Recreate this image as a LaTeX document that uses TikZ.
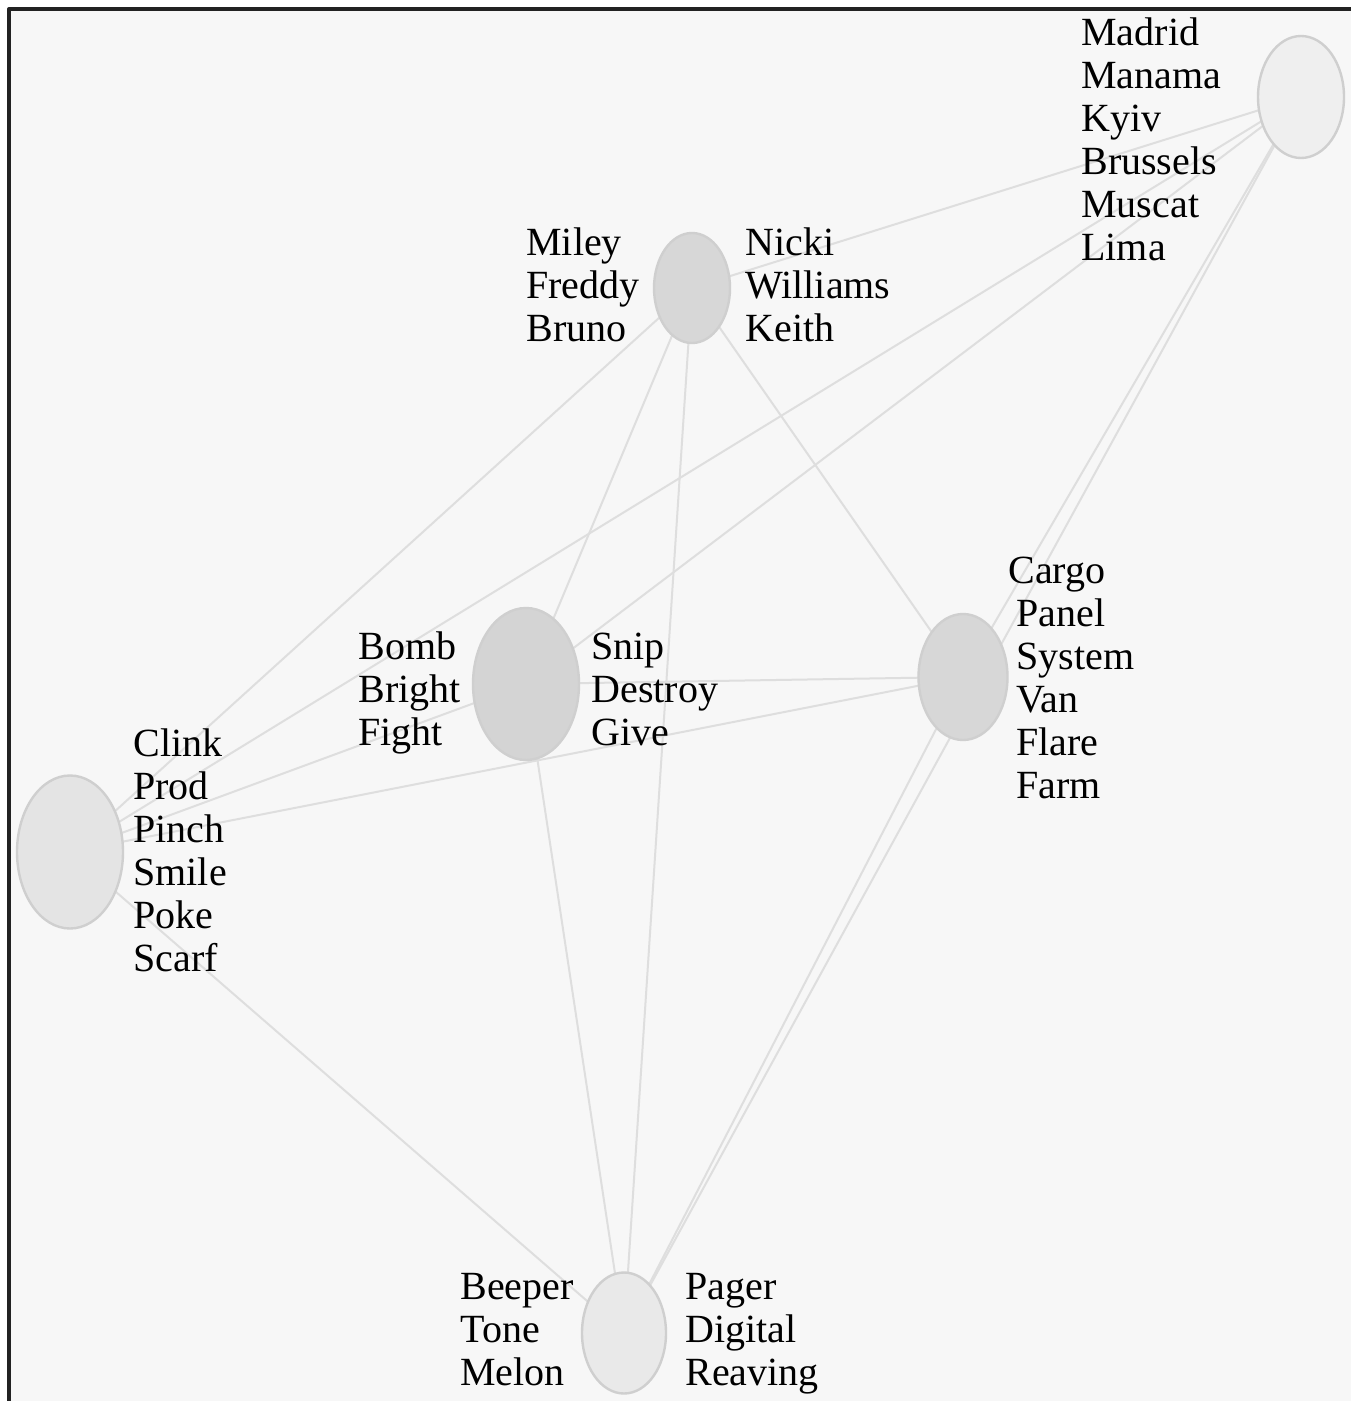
\documentclass[tikz,border=0pt]{standalone}
\usepackage{fontspec}
\setmainfont{Liberation Serif}
\usetikzlibrary{shapes.geometric,backgrounds}
\definecolor{bgc}{HTML}{F7F7F7}
\definecolor{framec}{HTML}{222222}
\definecolor{edgec}{HTML}{DEDEDE}
\definecolor{strokec}{HTML}{CFCFCF}
\newcommand\lbl[1]{\begin{tabular}[t]{@{}l@{}}#1\end{tabular}}
\tikzset{
  vtx/.style={ellipse, draw=strokec, line width=1.2pt, inner sep=0pt},
  edge/.style={draw=edgec, line width=1pt},
  lab/.style={anchor=base west, inner sep=0pt, font=\fontsize{20}{21.5}\selectfont, text=black}
}
\begin{document}
\begin{tikzpicture}[x=0.5pt,y=-0.5pt]
\useasboundingbox (0,0) rectangle (1351,1401);
% nodes (sizes in pt = px/2)
\node[vtx, fill={rgb,255:red,239;green,239;blue,239}, minimum width=43pt, minimum height=61pt] (mad) at (1301,97) {};
\node[vtx, fill={rgb,255:red,215;green,215;blue,215}, minimum width=38pt, minimum height=55pt] (mil) at (692,288) {};
\node[vtx, fill={rgb,255:red,212;green,212;blue,212}, minimum width=53pt, minimum height=76pt] (bom) at (526,684) {};
\node[vtx, fill={rgb,255:red,228;green,228;blue,228}, minimum width=53pt, minimum height=76.5pt] (clk) at (70,852) {};
\node[vtx, fill={rgb,255:red,215;green,215;blue,215}, minimum width=44.5pt, minimum height=63pt] (car) at (963,677) {};
\node[vtx, fill={rgb,255:red,233;green,233;blue,233}, minimum width=42pt, minimum height=60.5pt] (bee) at (624,1333) {};
% background and edges
\begin{pgfonlayer}{background}
\fill[bgc] (9,9) rectangle (1351,1401);
\draw[edge] (mad.center) -- (mil.center);
\draw[edge] (mad.center) -- (clk.center);
\draw[edge] (mad.center) -- (bom.center);
\draw[edge] (mad.center) -- (car.center);
\draw[edge] (mad.center) -- (bee.center);
\draw[edge] (mil.center) -- (bom.center);
\draw[edge] (mil.center) -- (bee.center);
\draw[edge] (mil.center) -- (car.center);
\draw[edge] (mil.center) -- (clk.center);
\draw[edge] (bom.center) -- (car.center);
\draw[edge] (bom.center) -- (bee.center);
\draw[edge] (bom.center) -- (clk.center);
\draw[edge] (clk.center) -- (car.center);
\draw[edge] (clk.center) -- (bee.center);
\draw[edge] (car.center) -- (bee.center);
\end{pgfonlayer}
% frame
\draw[framec, line width=2pt, line join=round] (9,1401) -- (9,9) -- (1351,9);
% labels
\node[lab] (lmad) at (1081,46) {\lbl{Madrid\\Manama\\Kyiv\\Brussels\\Muscat\\Lima}};
\node[lab] (lmil) at (526,256) {\lbl{Miley\\Freddy\\Bruno}};
\node[lab] (lnic) at (745,256) {\lbl{Nicki\\Williams\\Keith}};
\node[lab] (lbom) at (358,659) {\lbl{Bomb\\Bright\\Fight}};
\node[lab] (lsni) at (591,659) {\lbl{Snip\\Destroy\\Give}};
\node[lab] (lclk) at (133,756) {\lbl{Clink\\Prod\\Pinch\\Smile\\Poke\\Scarf}};
\node[lab] (lcar) at (1016,583) {\lbl{\kern-4pt Cargo\\Panel\\System\\Van\\Flare\\Farm}};
\node[lab] (lbee) at (460,1299) {\lbl{Beeper\\Tone\\Melon}};
\node[lab] (lpag) at (685,1299) {\lbl{Pager\\Digital\\Reaving}};
\end{tikzpicture}
\end{document}
